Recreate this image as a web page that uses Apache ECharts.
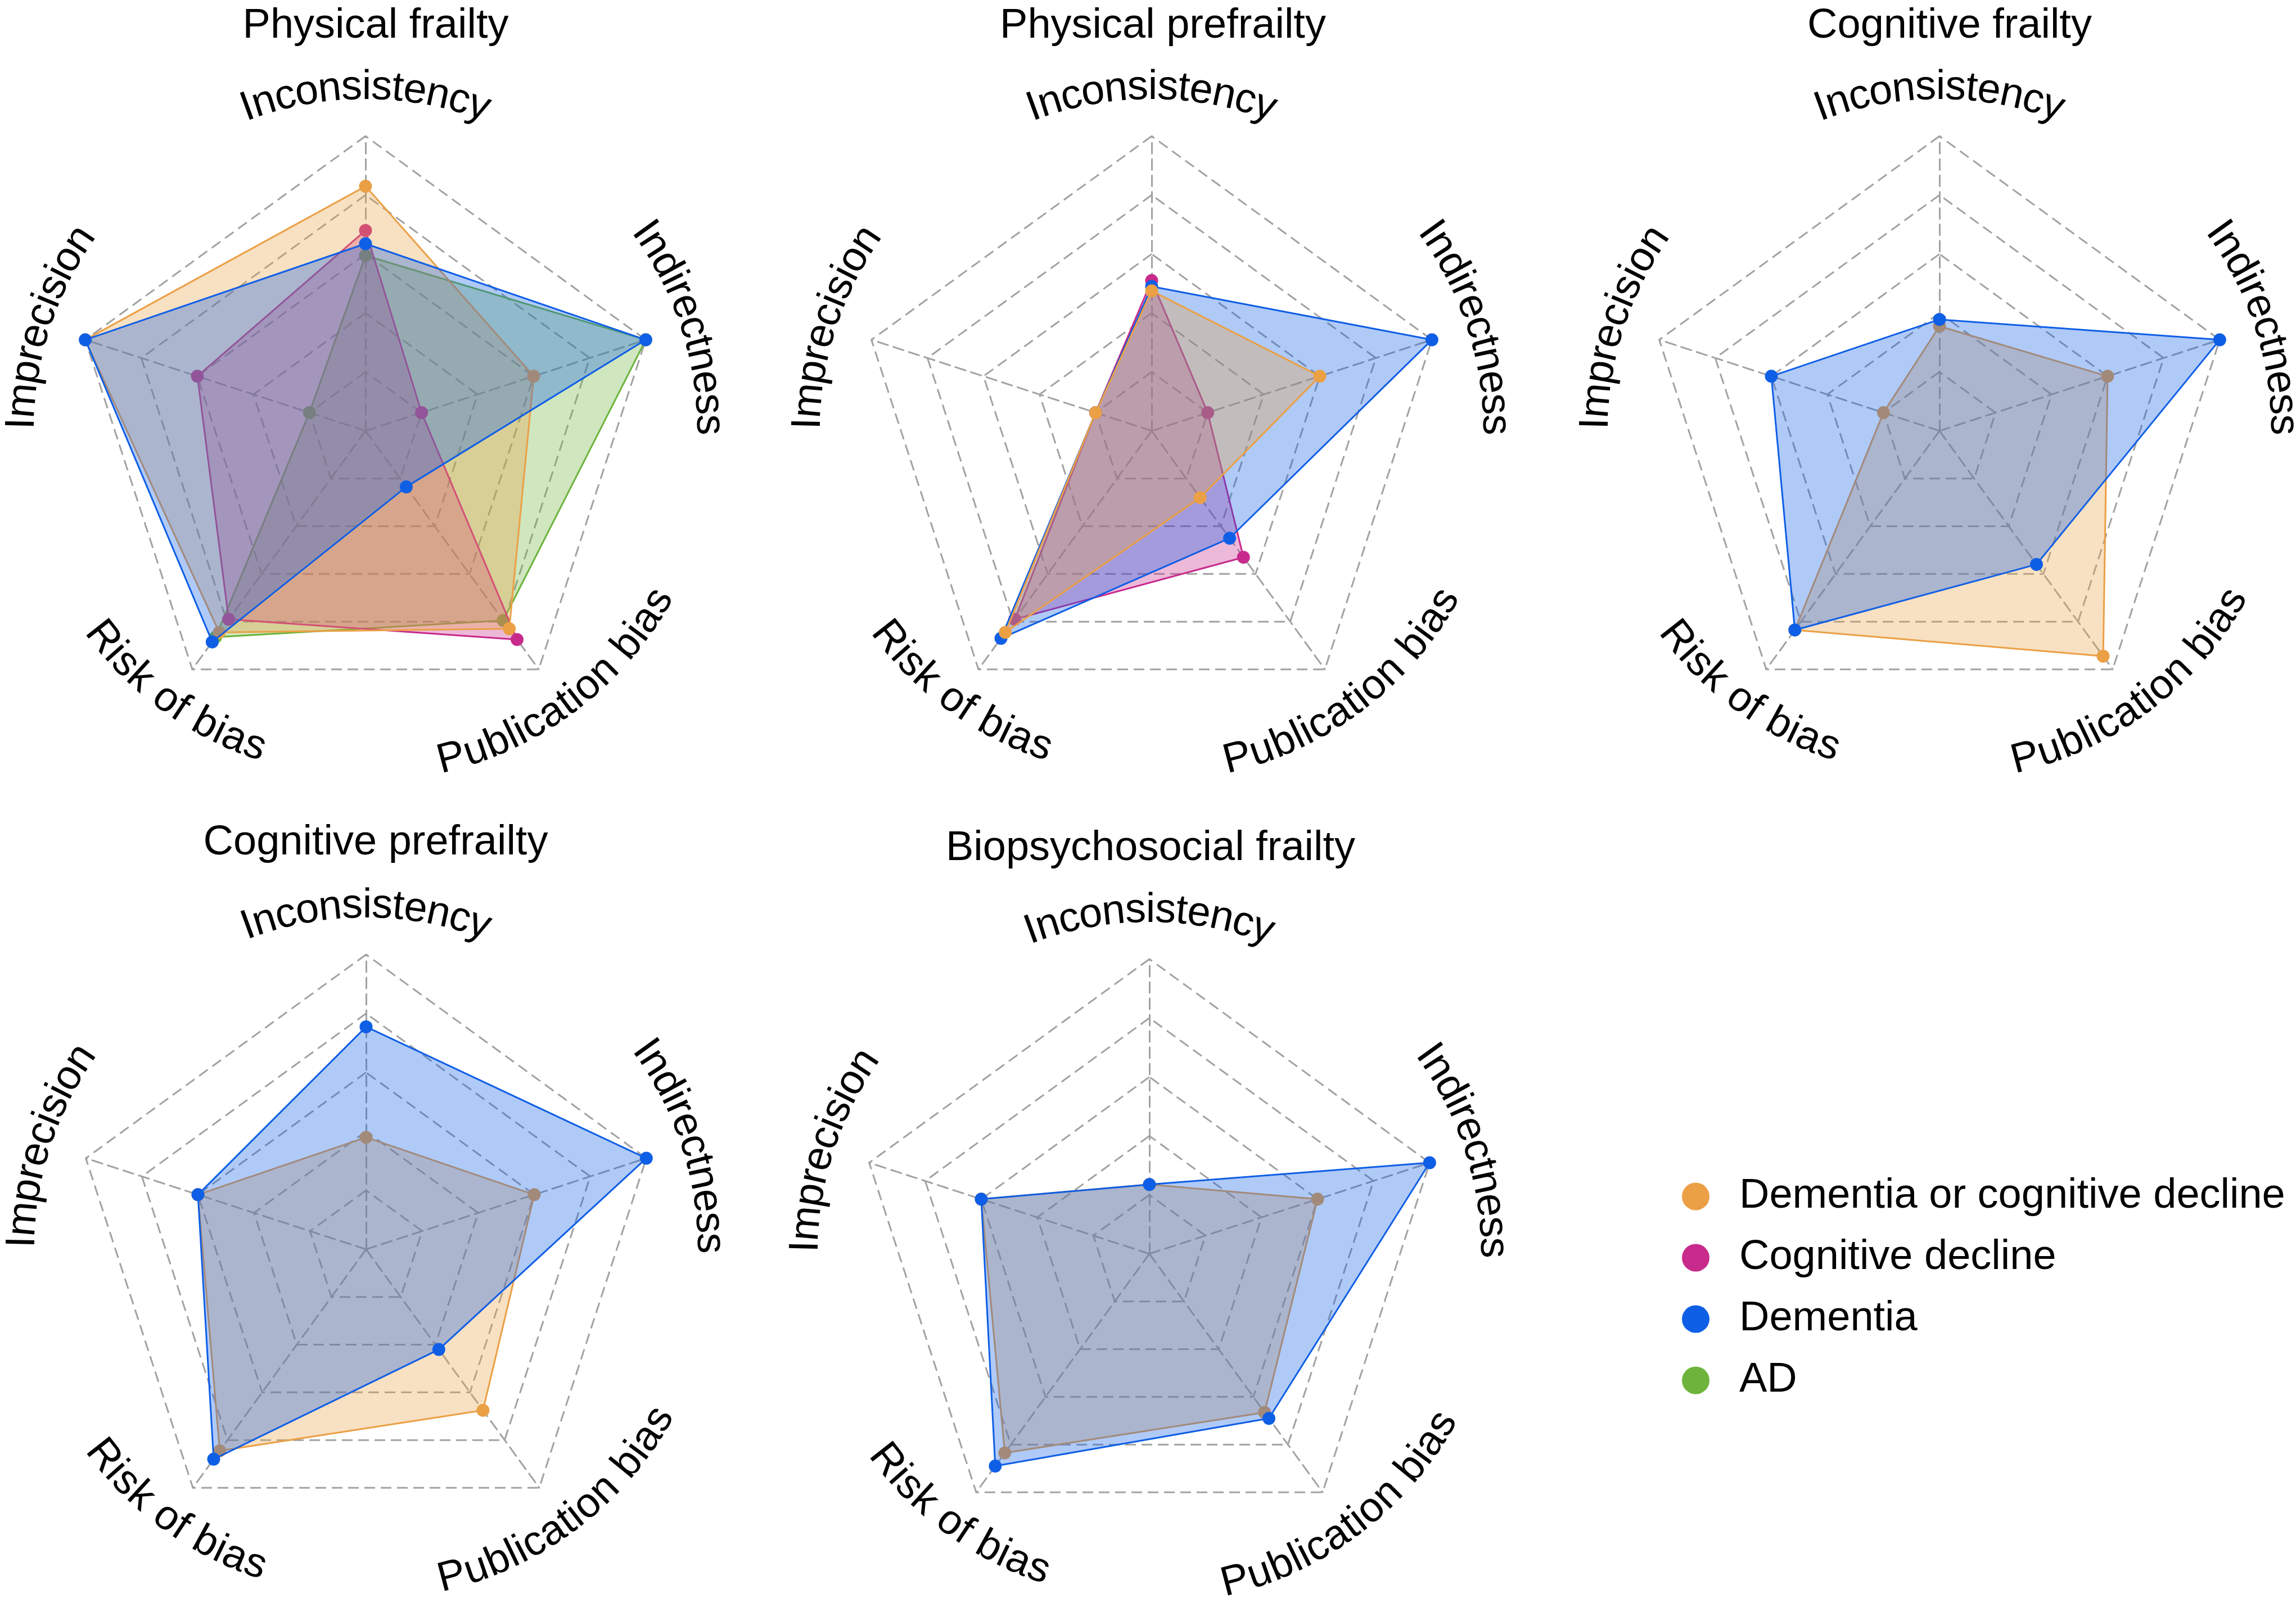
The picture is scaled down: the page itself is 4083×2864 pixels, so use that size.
<!DOCTYPE html>
<html>
<head>
<meta charset="utf-8">
<script src="https://cdn.jsdelivr.net/npm/echarts@6/dist/echarts.min.js"></script>
<style>
html,body{margin:0;padding:0;background:#ffffff;}
#chart{width:4083px;height:2864px;}
</style>
</head>
<body>
<div id="chart"></div>
<script>
// ---------------- DATA ----------------
// Dimensions listed clockwise starting at the top axis
const dimensions = ['Inconsistency', 'Indirectness', 'Publication bias', 'Risk of bias', 'Imprecision'];
const panelTitles = ['Physical frailty', 'Physical prefrailty', 'Cognitive frailty', 'Cognitive prefrailty', 'Biopsychosocial frailty'];
const seriesNames = ['Dementia or cognitive decline', 'Cognitive decline', 'Dementia', 'AD'];

// values (0-1 of the outer ring), order = dimensions
const physFrailtyDCD = [0.83, 0.60, 0.83, 0.845, 1.00];
const physFrailtyCD  = [0.68, 0.20, 0.875, 0.79, 0.60];
const physFrailtyDem = [0.635, 1.00, 0.235, 0.885, 1.00];
const physFrailtyAD  = [0.595, 1.00, 0.795, 0.865, 0.20];

const physPrefrailtyDCD = [0.475, 0.60, 0.28, 0.845, 0.20];
const physPrefrailtyCD  = [0.51, 0.20, 0.53, 0.79, 0.20];
const physPrefrailtyDem = [0.49, 1.00, 0.45, 0.87, 0.20];

const cogFrailtyDCD = [0.355, 0.60, 0.945, 0.835, 0.20];
const cogFrailtyDem = [0.378, 1.00, 0.56, 0.835, 0.60];

const cogPrefrailtyDCD = [0.38, 0.60, 0.675, 0.845, 0.60];
const cogPrefrailtyDem = [0.755, 1.00, 0.42, 0.88, 0.60];

const bpsFrailtyDCD = [0.235, 0.60, 0.665, 0.835, 0.60];
const bpsFrailtyDem = [0.235, 1.00, 0.69, 0.89, 0.60];

// ---------------- STYLE / LAYOUT ----------------
const seriesColors = {
  'Dementia or cognitive decline': '#EBA046',
  'Cognitive decline': '#C82A8C',
  'Dementia': '#0F5FE6',
  'AD': '#6EB43C'
};
const FONT_FAMILY = '"Liberation Sans", Arial, Helvetica, sans-serif';
const FONT_SIZE = 74;
const RADIUS = 524;
const panelCenters = [[650, 766], [2048, 766], [3449, 766], [651, 2221], [2044, 2229]];
const titlePos = [[668, 10], [2068, 10], [3467, 10], [668, 1462], [2046, 1472]];

// drawing order (later = on top) per panel
const panels = [
  [['AD', physFrailtyAD], ['Cognitive decline', physFrailtyCD], ['Dementia or cognitive decline', physFrailtyDCD], ['Dementia', physFrailtyDem]],
  [['Cognitive decline', physPrefrailtyCD], ['Dementia', physPrefrailtyDem], ['Dementia or cognitive decline', physPrefrailtyDCD]],
  [['Dementia or cognitive decline', cogFrailtyDCD], ['Dementia', cogFrailtyDem]],
  [['Dementia or cognitive decline', cogPrefrailtyDCD], ['Dementia', cogPrefrailtyDem]],
  [['Dementia or cognitive decline', bpsFrailtyDCD], ['Dementia', bpsFrailtyDem]]
];

// ECharts places indicators counter-clockwise from the top
const ccwOrder = [0, 4, 3, 2, 1];
// angle (deg) of each dimension, clockwise list
const dimAngles = [90, 18, -54, -126, 162];
// placement of the curved axis names (angle, radius factor)
const nameAngles = [90, 18, -53, -126, 162];
const nameRadius = [1.165, 1.165, 1.15, 1.135, 1.165];

const gridLine = { color: '#a2a2a2', width: 3, type: [19, 10] };

const radars = panelCenters.map(c => ({
  center: c,
  radius: RADIUS,
  startAngle: 90,
  shape: 'polygon',
  splitNumber: 5,
  indicator: ccwOrder.map(i => ({ name: dimensions[i], min: 0, max: 1 })),
  axisName: { show: false },
  splitLine: { lineStyle: gridLine },
  splitArea: { show: false },
  axisLine: { lineStyle: gridLine },
  axisTick: { show: false },
  axisLabel: { show: false }
}));

const series = [];
panels.forEach((list, p) => {
  list.forEach(([name, vals], k) => {
    const col = seriesColors[name];
    series.push({
      type: 'radar',
      name: name,
      radarIndex: p,
      z: 2 + k,
      symbol: 'circle',
      symbolSize: 23,
      lineStyle: { color: col, width: 3 },
      itemStyle: { color: col },
      areaStyle: { color: col, opacity: 0.33 },
      emphasis: { disabled: true },
      data: [{ value: ccwOrder.map(i => vals[i]), name: name }]
    });
  });
});

// curved axis names built from the radar geometry
const measureCtx = document.createElement('canvas').getContext('2d');
const FONT = FONT_SIZE + 'px ' + FONT_FAMILY;
measureCtx.font = FONT;
function curvedText(text, cx, cy, r, thetaDeg, inward) {
  const chars = Array.from(text);
  const widths = chars.map(ch => measureCtx.measureText(ch).width);
  const total = widths.reduce((a, b) => a + b, 0);
  const span = total / r;
  const th = thetaDeg * Math.PI / 180;
  const out = [];
  let cum = 0;
  chars.forEach((ch, i) => {
    const off = (cum + widths[i] / 2) / r;
    cum += widths[i];
    if (ch === ' ') return;
    let a, rot;
    if (!inward) { a = th + span / 2 - off; rot = a - Math.PI / 2; }
    else { a = th - span / 2 + off; rot = a + Math.PI / 2; }
    out.push({
      type: 'text',
      x: cx + r * Math.cos(a),
      y: cy - r * Math.sin(a),
      rotation: rot,
      silent: true,
      style: {
        text: ch, font: FONT, fill: '#000000',
        textAlign: 'center', textVerticalAlign: 'middle',
        align: 'center', verticalAlign: 'middle'
      }
    });
  });
  return out;
}
const graphics = [];
panelCenters.forEach(c => {
  dimensions.forEach((d, i) => {
    const ang = nameAngles[i];
    const inward = dimAngles[i] < 0;
    const r = RADIUS * nameRadius[i];
    graphics.push(...curvedText(d, c[0], c[1], r, ang, inward));
  });
});

const titles = panelTitles.map((t, i) => ({
  text: t,
  left: titlePos[i][0],
  top: titlePos[i][1],
  textAlign: 'center',
  padding: 0,
  textStyle: { fontSize: FONT_SIZE, fontWeight: 'normal', color: '#000000', fontFamily: FONT_FAMILY }
}));

const chart = echarts.init(document.getElementById('chart'), null, { renderer: 'canvas' });
chart.setOption({
  backgroundColor: '#ffffff',
  animation: false,
  title: titles,
  legend: {
    data: seriesNames,
    orient: 'vertical',
    left: 2991,
    top: 2087,
    icon: 'circle',
    itemWidth: 49,
    itemHeight: 49,
    itemGap: 29,
    padding: 0,
    selectedMode: false,
    textStyle: { fontSize: FONT_SIZE, fontFamily: FONT_FAMILY, color: '#000000', lineHeight: 80, padding: [0, 0, 0, 48] }
  },
  radar: radars,
  series: series,
  graphic: { elements: graphics }
});
</script>
</body>
</html>
